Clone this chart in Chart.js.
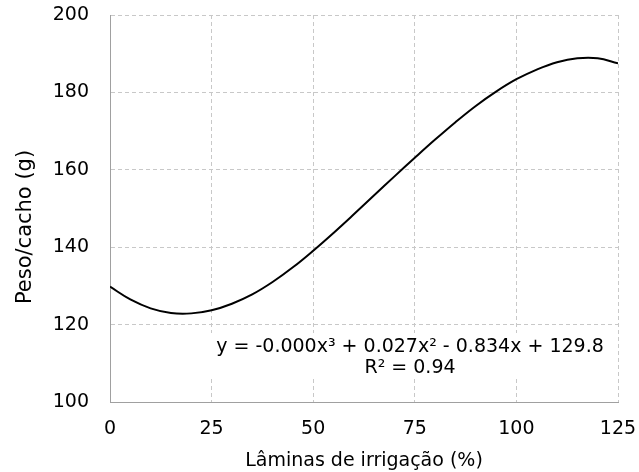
<!DOCTYPE html>
<html>
<head>
<meta charset="utf-8">
<script src="https://cdn.jsdelivr.net/npm/chart.js@4.4.1/dist/chart.umd.min.js"></script>
<style>
  html, body { margin: 0; padding: 0; background: #fff; }
  #wrap { width: 639px; height: 472px; }
</style>
</head>
<body>
<div id="wrap"><canvas id="graficoPeso"></canvas></div>
<script>
// Lâminas de irrigação (%) e peso por cacho (g)
const laminas = [0, 5, 10, 15, 20, 25, 30, 35, 40, 45, 50, 55, 60, 65, 70, 75, 80, 85, 90, 95, 100, 105, 110, 115, 120, 125];
const pesoCacho = [129.8, 126.5, 124.2, 123.0, 122.9, 123.7, 125.4, 127.8, 131.0, 134.8, 139.1, 143.7, 148.5, 153.4, 158.3, 163.1, 167.8, 172.3, 176.5, 180.2, 183.4, 185.9, 187.8, 188.8, 188.8, 187.5];
const ticksX = [0, 25, 50, 75, 100, 125];
const ticksY = [100, 120, 140, 160, 180, 200];
const equacao = 'y = -0.000x³ + 0.027x² - 0.834x + 129.8';
const r2 = 'R² = 0.94';

const fonte = 'DejaVu Sans';

// rótulos extras: equação da linha de tendência e título do eixo Y
const rotulos = {
  id: 'rotulos',
  afterDatasetsDraw(chart) {
    const ctx = chart.ctx;
    ctx.save();
    ctx.fillStyle = '#fff';
    ctx.fillRect(205, 333, 410, 46);
    ctx.fillStyle = '#000';
    ctx.font = '19px "' + fonte + '"';
    ctx.textAlign = 'center';
    ctx.textBaseline = 'middle';
    ctx.fillText(equacao, 410, 347);
    ctx.fillText(r2, 410, 368);

    ctx.translate(26, 227);
    ctx.rotate(-Math.PI / 2);
    ctx.font = '21px "' + fonte + '"';
    ctx.fillText('Peso/cacho (g)', 0, 0);
    ctx.restore();
  }
};

// sem folga extra dos rótulos: a área do gráfico fica fixa
function semFolga(s) {
  s.paddingTop = 0;
  s.paddingBottom = 0;
  s.paddingLeft = 0;
  s.paddingRight = 0;
}

const ctx = document.getElementById('graficoPeso').getContext('2d');
new Chart(ctx, {
  type: 'line',
  data: {
    datasets: [{
      label: 'Peso/cacho',
      data: laminas.map((x, i) => ({ x: x, y: pesoCacho[i] })),
      borderColor: '#000',
      borderWidth: 2,
      pointRadius: 0,
      tension: 0.4,
      fill: false
    }]
  },
  options: {
    responsive: true,
    maintainAspectRatio: false,
    animation: false,
    layout: { padding: { top: 15, right: 21, left: 0, bottom: 0 } },
    plugins: {
      legend: { display: false },
      tooltip: { enabled: false }
    },
    scales: {
      x: {
        type: 'linear',
        min: 0,
        max: 125,
        afterFit: s => { s.height = 70; semFolga(s); },
        afterBuildTicks: s => { s.ticks = ticksX.map(v => ({ value: v })); },
        ticks: { color: '#000', padding: 16, font: { family: fonte, size: 19 }, maxRotation: 0 },
        grid: { color: '#c8c8c8', drawTicks: false },
        border: { color: '#a0a0a0', width: 1, dash: [4, 3] },
        title: {
          display: true,
          text: 'Lâminas de irrigação (%)',
          color: '#000',
          padding: { top: 0, bottom: 0 },
          font: { family: fonte, size: 19 }
        }
      },
      y: {
        min: 100,
        max: 200,
        afterFit: s => { s.width = 110; semFolga(s); },
        afterBuildTicks: s => { s.ticks = ticksY.map(v => ({ value: v })); },
        ticks: { color: '#000', padding: 21, font: { family: fonte, size: 19 } },
        grid: { color: '#c8c8c8', drawTicks: false },
        border: { color: '#a0a0a0', width: 1, dash: [4, 3] }
      }
    }
  },
  plugins: [rotulos]
});
</script>
</body>
</html>
